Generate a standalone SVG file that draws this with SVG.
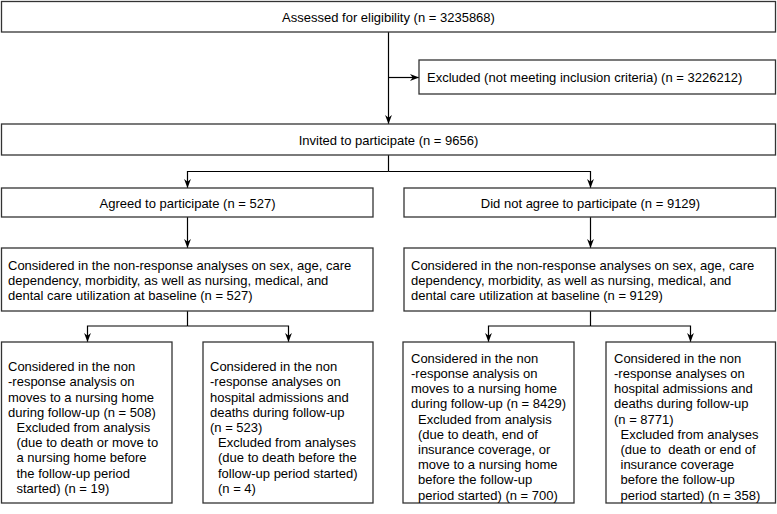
<svg xmlns="http://www.w3.org/2000/svg" width="777" height="514" viewBox="0 0 777 514">
<defs>
<marker id="arr" viewBox="0 0 10 10" refX="10" refY="5" markerWidth="9" markerHeight="9" markerUnits="userSpaceOnUse" orient="auto">
<path d="M0,1.2 L10,5 L0,8.8 L3,5 Z" fill="#000"/>
</marker>
<style>
.box{fill:#fff;stroke:#333;stroke-width:1.3}
.t{font-family:"Liberation Sans",Arial,sans-serif;font-size:13px;fill:#000}
.c{text-anchor:middle}
.ln{fill:none;stroke:#000;stroke-width:1.2}
</style>
</defs>
<rect width="777" height="514" fill="#fff"/>
<g id="connectors">
<line class="ln" x1="388.5" y1="32" x2="388.5" y2="124" marker-end="url(#arr)"/>
<line class="ln" x1="388.5" y1="77.5" x2="419" y2="77.5" marker-end="url(#arr)"/>
<polyline class="ln" points="388.5,155 388.5,171.5"/>
<polyline class="ln" points="388.5,171.5 187.5,171.5 187.5,188" marker-end="url(#arr)"/>
<polyline class="ln" points="388.5,171.5 590.5,171.5 590.5,188" marker-end="url(#arr)"/>
<line class="ln" x1="187.5" y1="217" x2="187.5" y2="248" marker-end="url(#arr)"/>
<line class="ln" x1="590.5" y1="217" x2="590.5" y2="248" marker-end="url(#arr)"/>
<polyline class="ln" points="187.5,311 187.5,326"/>
<polyline class="ln" points="187.5,326 87.5,326 87.5,342" marker-end="url(#arr)"/>
<polyline class="ln" points="187.5,326 288.5,326 288.5,342" marker-end="url(#arr)"/>
<polyline class="ln" points="590.5,311 590.5,326"/>
<polyline class="ln" points="590.5,326 488.5,326 488.5,342" marker-end="url(#arr)"/>
<polyline class="ln" points="590.5,326 690.5,326 690.5,342" marker-end="url(#arr)"/>
</g>
<g id="assessed">
<rect class="box" x="1.5" y="1.5" width="774" height="30.5"/>
<text class="t c" x="388.5" y="21.5">Assessed for eligibility (n = 3235868)</text>
</g>
<g id="excluded">
<rect class="box" x="419" y="60" width="356.5" height="34"/>
<text class="t" x="427" y="82">Excluded (not meeting inclusion criteria) (n = 3226212)</text>
</g>
<g id="invited">
<rect class="box" x="1.5" y="124" width="774" height="31"/>
<text class="t c" x="388.5" y="144.5">Invited to participate (n = 9656)</text>
</g>
<g id="agreed">
<rect class="box" x="1.5" y="188" width="371.5" height="29"/>
<text class="t c" x="187.5" y="207.5">Agreed to participate (n = 527)</text>
</g>
<g id="notagreed">
<rect class="box" x="404" y="188" width="371.5" height="29"/>
<text class="t c" x="590.5" y="207.5">Did not agree to participate (n = 9129)</text>
</g>
<g id="considered-left">
<rect class="box" x="1.5" y="248" width="371.5" height="63"/>
<text class="t" x="8" y="269.5">Considered in the non-response analyses on sex, age, care</text>
<text class="t" x="8" y="284.5">dependency, morbidity, as well as nursing, medical, and</text>
<text class="t" x="8" y="299.5">dental care utilization at baseline (n = 527)</text>
</g>
<g id="considered-right">
<rect class="box" x="404" y="248" width="371.5" height="63"/>
<text class="t" x="411" y="269.5">Considered in the non-response analyses on sex, age, care</text>
<text class="t" x="411" y="284.5">dependency, morbidity, as well as nursing, medical, and</text>
<text class="t" x="411" y="299.5">dental care utilization at baseline (n = 9129)</text>
</g>
<g id="nh-left">
<rect class="box" x="1.5" y="342" width="170.5" height="161"/>
<text class="t" x="8" y="371.2">Considered in the non</text>
<text class="t" x="8" y="386.4">-response analysis on</text>
<text class="t" x="8" y="401.6">moves to a nursing home</text>
<text class="t" x="8" y="416.8">during follow-up (n = 508)</text>
<text class="t" x="16.5" y="432">Excluded from analysis</text>
<text class="t" x="16.5" y="447.2">(due to death or move to</text>
<text class="t" x="16.5" y="462.4">a nursing home before</text>
<text class="t" x="16.5" y="477.6">the follow-up period</text>
<text class="t" x="16.5" y="492.8">started) (n = 19)</text>
</g>
<g id="hosp-left">
<rect class="box" x="203" y="342" width="170" height="161"/>
<text class="t" x="210" y="371.2">Considered in the non</text>
<text class="t" x="210" y="386.4">-response analyses on</text>
<text class="t" x="210" y="401.6">hospital admissions and</text>
<text class="t" x="210" y="416.8">deaths during follow-up</text>
<text class="t" x="210" y="432">(n = 523)</text>
<text class="t" x="218" y="447.2">Excluded from analyses</text>
<text class="t" x="218" y="462.4">(due to death before the</text>
<text class="t" x="218" y="477.6">follow-up period started)</text>
<text class="t" x="218" y="492.8">(n = 4)</text>
</g>
<g id="nh-right">
<rect class="box" x="403" y="342" width="171" height="161"/>
<text class="t" x="411" y="362.8">Considered in the non</text>
<text class="t" x="411" y="378">-response analysis on</text>
<text class="t" x="411" y="393.2">moves to a nursing home</text>
<text class="t" x="411" y="408.4">during follow-up (n = 8429)</text>
<text class="t" x="418" y="423.6">Excluded from analysis</text>
<text class="t" x="418" y="438.8">(due to death, end of</text>
<text class="t" x="418" y="454">insurance coverage, or</text>
<text class="t" x="418" y="469.2">move to a nursing home</text>
<text class="t" x="418" y="484.4">before the follow-up</text>
<text class="t" x="418" y="499.6">period started) (n = 700)</text>
</g>
<g id="hosp-right">
<rect class="box" x="606" y="342" width="169.5" height="161"/>
<text class="t" x="614" y="362.8">Considered in the non</text>
<text class="t" x="614" y="378">-response analyses on</text>
<text class="t" x="614" y="393.2">hospital admissions and</text>
<text class="t" x="614" y="408.4">deaths during follow-up</text>
<text class="t" x="614" y="423.6">(n = 8771)</text>
<text class="t" x="620.5" y="438.8">Excluded from analyses</text>
<text class="t" x="620.5" y="454" xml:space="preserve">(due to  death or end of</text>
<text class="t" x="620.5" y="469.2">insurance coverage</text>
<text class="t" x="620.5" y="484.4">before the follow-up</text>
<text class="t" x="620.5" y="499.6">period started) (n = 358)</text>
</g>
</svg>
